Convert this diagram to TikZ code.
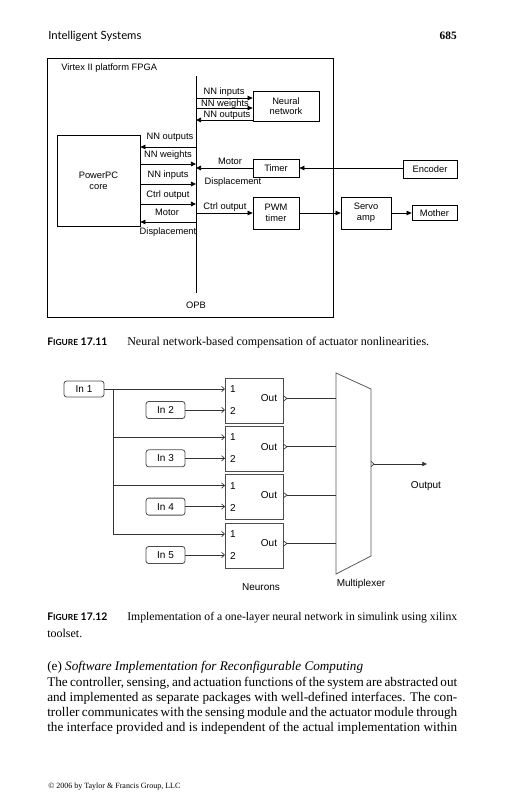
\documentclass[tikz,border=0pt]{standalone}
\usepackage{fontspec}
\setmainfont{Liberation Serif}
\newfontfamily\dia{Liberation Sans}
\newfontfamily\hdr{Lato}
\usetikzlibrary{arrows.meta,calc}
\newcommand\figlab[1]{\makebox[60pt][l]{{\hdr\bfseries\fontsize{7.8}{9}\selectfont F{\fontsize{6.3}{8}\selectfont IGURE} #1}}}
\begin{document}
\begin{tikzpicture}[x=0.75pt,y=-0.75pt,
  box/.style={draw,line width=0.6pt,inner sep=0pt,font=\dia\fontsize{7}{8}\selectfont,align=center},
  lbl/.style={inner sep=0pt,font=\dia\fontsize{7}{8}\selectfont},
  arr/.style={line width=0.6pt,-{Triangle[length=3.8pt,width=3.5pt]}},
  ln/.style={line width=0.6pt},
  neuron/.style={draw=black!70,line width=0.6pt,minimum width=43.5pt,minimum height=33.75pt,inner sep=0pt},
  inbox/.style={draw=black!70,line width=0.6pt,rounded corners=2pt,inner sep=0pt,font=\dia\fontsize{7.5}{8}\selectfont},
  slbl/.style={inner sep=0pt,font=\dia\fontsize{7.5}{8}\selectfont},
  sig/.style={draw=black!80,line width=0.5pt},
  sarr/.style={draw=black!80,line width=0.5pt,-{Straight Barb[length=2.2pt,width=4pt]}},
  txt/.style={inner sep=0pt,anchor=west},
]
\useasboundingbox (0,0) rectangle (504,800);

% ---------- header ----------
\node[txt,font=\hdr\fontsize{8.5}{10}\selectfont] (hd) at (48,36) {Intelligent Systems};
\node[inner sep=0pt,anchor=east,font=\fontsize{8.5}{10}\selectfont\bfseries] (pg) at (457,36) {685};

% ---------- Figure 17.11 ----------
\node[draw,line width=0.6pt,minimum width=214.5pt,minimum height=194.25pt,inner sep=0pt] (fpga) at (190,187.5) {};
\node[lbl,anchor=west] (fpgat) at (61,68) {Virtex II platform FPGA};
\coordinate (bt) at (196,76);
\coordinate (bb) at (196,293);
\draw[ln] (bt) -- (bb);
\node[lbl] (opb) at (196,305) {OPB};

\node[box,minimum width=49.5pt,minimum height=22.5pt] (nn) at (286,106) {Neural\\network};
\node[box,minimum width=62.25pt,minimum height=68.25pt] (ppc) at (98.5,180.5) {PowerPC\\core};
\node[box,minimum width=34.5pt,minimum height=13.5pt] (timer) at (276,168) {Timer};
\node[box,minimum width=40.5pt,minimum height=13.5pt] (enc) at (430,169) {Encoder};
\node[box,minimum width=34.5pt,minimum height=24pt] (pwm) at (276,213) {PWM\\timer};
\node[box,minimum width=37.5pt,minimum height=24pt] (servo) at (366,213) {Servo\\amp};
\node[box,minimum width=33.75pt,minimum height=11.25pt] (mother) at (434.5,213) {Mother};

% bus taps right
\coordinate (r1) at (196,98);
\coordinate (r2) at (196,108);
\coordinate (r3) at (196,120);
\coordinate (r4) at (196,168);
\coordinate (r5) at (196,213);
\draw[arr] (r1) -- (r1 -| nn.west);
\draw[arr] (r2) -- (r2 -| nn.west);
\draw[arr] (r3 -| nn.west) -- (r3);
\draw[arr] (timer.west) -- (r4);
\draw[arr] (enc.west |- timer) -- (timer.east);
\draw[arr] (r5) -- (pwm.west);
\draw[arr] (pwm.east) -- (servo.west);
\draw[arr] (servo.east) -- (mother.west);
\node[lbl] (l1) at (224,92) {NN inputs};
\node[lbl] (l2) at (225,104) {NN weights};
\node[lbl] (l3) at (227,115.5) {NN outputs};
\node[lbl] (l4) at (230,161) {Motor};
\node[lbl] (l5) at (233,182) {Displacement};
\node[lbl] (l6) at (225,207) {Ctrl output};

% bus taps left
\coordinate (p1) at (196,147);
\coordinate (p2) at (196,164);
\coordinate (p3) at (196,184);
\coordinate (p4) at (196,204);
\coordinate (p5) at (196,222);
\draw[arr] (p1) -- (p1 -| ppc.east);
\draw[arr] (p2 -| ppc.east) -- (p2);
\draw[arr] (p3 -| ppc.east) -- (p3);
\draw[arr] (p4 -| ppc.east) -- (p4);
\draw[arr] (p5) -- (p5 -| ppc.east);
\node[lbl] (m1) at (170,137) {NN outputs};
\node[lbl] (m2) at (168,155) {NN weights};
\node[lbl] (m3) at (168,175.5) {NN inputs};
\node[lbl] (m4) at (168,195.5) {Ctrl output};
\node[lbl] (m5) at (167,212) {Motor};
\node[lbl] (m6) at (168,232) {Displacement};

% caption 17.11
\node[txt,font=\fontsize{9}{10}\selectfont] (cap1) at (47,343) {\figlab{17.11}Neural network-based compensation of actuator nonlinearities.};

% ---------- Figure 17.12 ----------
\foreach \i/\t in {1/378,2/426.3,3/474.6,4/523}{
  \node[neuron] (n\i) at (254,\t+22.5) {};
  \coordinate (n\i a) at (225,\t+11);
  \coordinate (n\i b) at (225,\t+32);
  \node[slbl] (pa\i) at (233,\t+11) {1};
  \node[slbl] (pb\i) at (233,\t+33) {2};
  \node[slbl] (out\i) at (269,\t+20.5) {Out};
  \coordinate (oc\i) at (283.5,\t+20.5);
  \coordinate (ot\i) at (287,\t+20.5);
  \draw[sig] ($(oc\i)+(0,-2.6)$) -- (ot\i) -- ($(oc\i)+(0,2.6)$);
}
\node[inbox,minimum width=30pt,minimum height=12pt] (in1) at (84,389) {In 1};
\node[inbox,minimum width=29.25pt,minimum height=12.75pt] (in2) at (165.5,410) {In 2};
\node[inbox,minimum width=29.25pt,minimum height=12.75pt] (in3) at (165.5,458.3) {In 3};
\node[inbox,minimum width=29.25pt,minimum height=12.75pt] (in4) at (165.5,506.6) {In 4};
\node[inbox,minimum width=29.25pt,minimum height=12.75pt] (in5) at (165.5,555) {In 5};

\coordinate (tr) at (113,389);
\draw[sarr] (in1.east) -- (n1a);
\draw[sarr] (tr) -- (tr |- n4a) -- (n4a);
\draw[sarr] (tr |- n2a) -- (n2a);
\draw[sarr] (tr |- n3a) -- (n3a);
\draw[sarr] (in2.east) -- (n1b);
\draw[sarr] (in3.east) -- (n2b);
\draw[sarr] (in4.east) -- (n3b);
\draw[sarr] (in5.east) -- (n4b);

% multiplexer
\coordinate (mx1) at (336,373);
\coordinate (mx2) at (371,389);
\coordinate (mx3) at (371,556);
\coordinate (mx4) at (336,574);
\draw[draw=black!65,line width=0.6pt] (mx1) -- (mx2) -- (mx3) -- (mx4) -- cycle;
\foreach \i in {1,2,3,4}{ \draw[sig] (ot\i) -- (ot\i -| mx1); }
\coordinate (mo) at (371,464);
\coordinate (mot) at (374,464);
\coordinate (oend) at (427,464);
\draw[sig] ($(mo)+(0,-2.6)$) -- (mot) -- ($(mo)+(0,2.6)$);
\draw[sig,-{Triangle[length=3.5pt,width=3.2pt]}] (mot) -- (oend);
\node[slbl] (outl) at (426,486) {Output};
\node[slbl] (neul) at (261,587) {Neurons};
\node[slbl] (muxl) at (361,584) {Multiplexer};

% caption 17.12
\node[txt,font=\fontsize{8.8}{10}\selectfont] (cap2a) at (47,618) {\makebox[307.5pt][s]{\figlab{17.12}Implementation of a one-layer neural network in simulink using xilinx}};
\node[txt,font=\fontsize{9}{10}\selectfont] (cap2b) at (47,633) {toolset.};

% body
\node[txt,font=\fontsize{9.9}{11}\selectfont] (h) at (47,667) {(e) \textit{Software Implementation for Reconfigurable Computing}};
\node[txt,font=\fontsize{9.9}{11}\selectfont] (b1) at (47,683) {\makebox[307.5pt][s]{The controller, sensing, and actuation functions of the system are abstracted out}};
\node[txt,font=\fontsize{9.9}{11}\selectfont] (b2) at (47,698) {\makebox[307.5pt][s]{and implemented as separate packages with well-defined interfaces. The con-}};
\node[txt,font=\fontsize{9.9}{11}\selectfont] (b3) at (47,713) {\makebox[307.5pt][s]{troller communicates with the sensing module and the actuator module through}};
\node[txt,font=\fontsize{9.9}{11}\selectfont] (b4) at (47,728) {\makebox[307.5pt][s]{the interface provided and is independent of the actual implementation within}};

\node[txt,font=\fontsize{6}{7}\selectfont] (ft) at (48,787) {\textcopyright\ 2006 by Taylor \& Francis Group, LLC};
\end{tikzpicture}
\end{document}
